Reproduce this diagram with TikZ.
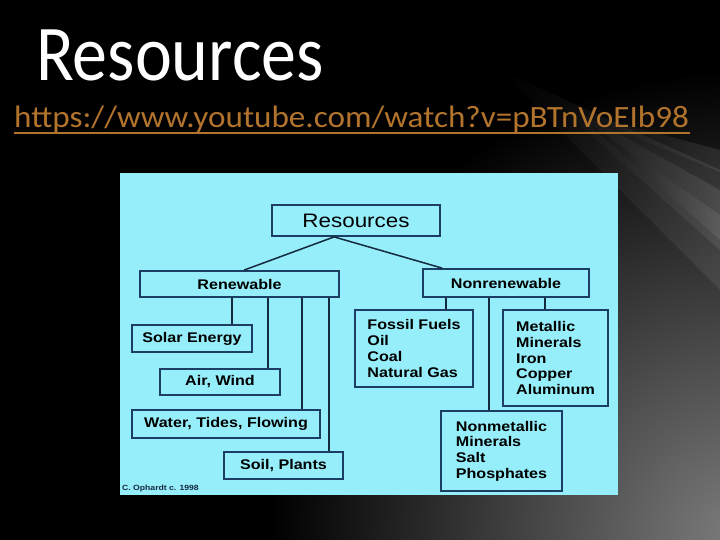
\documentclass[tikz,border=0pt]{standalone}
\usepackage{fontspec}
\usetikzlibrary{calc}
\newfontfamily\titlefont[FakeStretch=0.885]{Carlito}
\newfontfamily\urlfont[FakeStretch=1.07]{Carlito}
\newfontfamily\boxfont[FakeStretch=1.15]{Liberation Sans}
\definecolor{panel}{RGB}{150,238,250}
\definecolor{boxedge}{RGB}{28,62,100}
\definecolor{linecol}{RGB}{20,42,62}
\definecolor{urlcol}{RGB}{178,116,44}
\definecolor{glow}{RGB}{110,110,110}
\tikzset{
  box/.style={draw=boxedge, line width=1.8pt, fill=panel, inner sep=0pt,
    font=\boxfont\bfseries\fontsize{14}{15.7}\selectfont, text=black, align=left},
  conn/.style={draw=linecol, line width=1.5pt},
  ray/.style={left color=black, right color=glow, opacity=#1},
}
\begin{document}
\begin{tikzpicture}[x=1pt,y=-1pt]
\useasboundingbox (0,0) rectangle (720,540);
\fill[black] (0,0) rectangle (720,540);
% background glow
\begin{scope}
\clip (0,0) rectangle (720,540);
\shade[inner color=glow!90, outer color=black] (740,540) circle (470);
\shade[ray=0.30] (500,70) -- (720,170) -- (720,290) -- cycle;
\shade[ray=0.35] (540,90) -- (720,190) -- (720,250) -- cycle;
\shade[ray=0.45] (590,125) -- (720,215) -- (720,240) -- cycle;
\shade[ray=0.25] (570,110) -- (720,150) -- (720,172) -- cycle;
\end{scope}
% title and link
\node[anchor=base west, inner sep=0pt, text=white, font=\titlefont\fontsize{79}{79}\selectfont] (title) at (36,81) {Resources};
\node[anchor=base west, inner sep=0pt, text=urlcol, font=\urlfont\fontsize{31}{31}\selectfont] (url) at (14,128) {https://www.youtube.com/watch?v=pBTnVoEIb98};
\coordinate (ul1) at (14,133);
\coordinate (ul2) at (690,133);
\draw[urlcol, line width=1.8pt] (ul1) -- (ul2);
% panel
\fill[panel] (120,173) rectangle (618,495);
% boxes
\node[box, minimum width=168pt, minimum height=31pt, font=\boxfont\fontsize{19.5}{20}\selectfont] (res) at (356,220.5) {Resources};
\node[box, minimum width=199pt, minimum height=26pt] (ren) at (239.5,284) {Renewable};
\node[box, minimum width=166pt, minimum height=28pt] (non) at (506,283) {Nonrenewable};
\node[box, minimum width=120pt, minimum height=27pt] (sol) at (192,338.5) {Solar Energy};
\node[box, minimum width=120pt, minimum height=26pt] (air) at (220,382) {Air, Wind};
\node[box, minimum width=188pt, minimum height=28pt] (wat) at (226,424) {Water, Tides, Flowing};
\node[box, minimum width=119pt, minimum height=27pt] (soil) at (283.5,465.5) {Soil, Plants};
\node[box, minimum width=118pt, minimum height=77pt] (fos) at (414,348.5) {Fossil Fuels\\Oil\\Coal\\Natural Gas};
\node[box, minimum width=105pt, minimum height=96pt] (met) at (555.5,358) {Metallic\\Minerals\\Iron\\Copper\\Aluminum};
\node[box, minimum width=121pt, minimum height=80pt] (nmet) at (501.5,451) {Nonmetallic\\Minerals\\Salt\\Phosphates};
\node[anchor=base west, inner sep=0pt, font=\boxfont\bfseries\fontsize{7.5}{8}\selectfont, text=linecol] (copy) at (122,490) {C. Ophardt c. 1998};
% connectors
\coordinate (rs) at ($(res.south west)+(63,0)$);
\draw[conn] (rs) -- ($(ren.north west)+(105,0)$);
\draw[conn] (rs) -- ($(non.north west)+(20,0)$);
\draw[conn] ($(ren.south west)+(93,0)$) -- ($(sol.north west)+(101,0)$);
\draw[conn] ($(ren.south west)+(129,0)$) -- ($(air.north west)+(109,0)$);
\draw[conn] ($(ren.south west)+(163,0)$) -- ($(wat.north west)+(171,0)$);
\draw[conn] ($(ren.south west)+(190,0)$) -- ($(soil.north west)+(106,0)$);
\draw[conn] ($(non.south west)+(24,0)$) -- ($(fos.north west)+(92,0)$);
\draw[conn] ($(non.south west)+(67,0)$) -- ($(nmet.north west)+(49,0)$);
\draw[conn] ($(non.south west)+(123,0)$) -- ($(met.north west)+(43,0)$);
\end{tikzpicture}
\end{document}
